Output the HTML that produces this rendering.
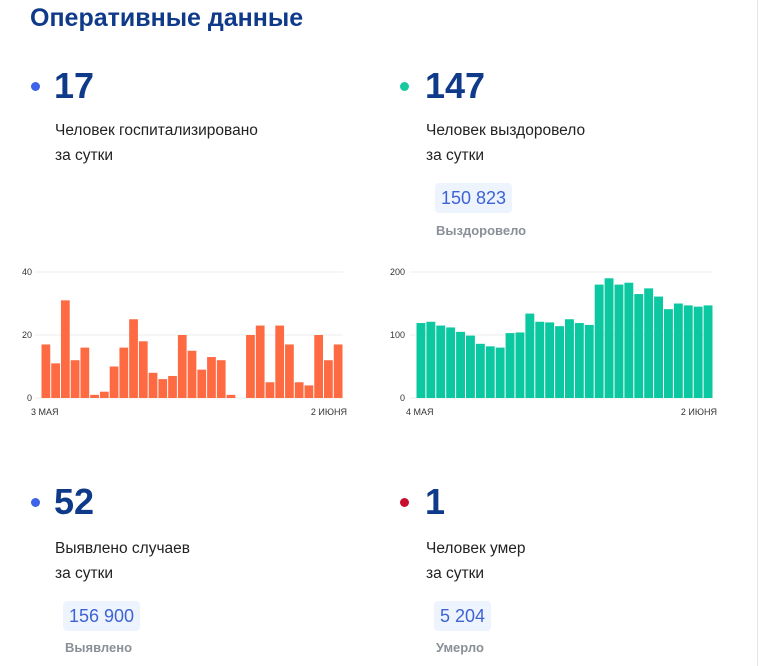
<!DOCTYPE html>
<html><head><meta charset="utf-8">
<style>
body{margin:0;width:760px;height:666px;background:#fff;font-family:"Liberation Sans",sans-serif;position:relative;overflow:hidden}
.a{position:absolute;margin:0;white-space:nowrap}
.title{left:30px;top:4px;font-size:25px;font-weight:bold;color:#0f3a8a}
.dot{width:9px;height:9px;border-radius:50%}
.big{font-size:36px;font-weight:bold;color:#0f3a8a;line-height:40px}
.sub{font-size:15.5px;color:#222;line-height:25px}
.badge{background:#eef4fd;color:#3d63d6;font-size:18px;border-radius:4px;padding:4px 6px;line-height:22px}
.lbl{font-size:13px;font-weight:bold;color:#8a8f98}
</style></head><body>
<div class="a title">Оперативные данные</div>
<div style="position:absolute;left:757px;top:0;width:1px;height:666px;background:#e4e4e4"></div>

<div class="a dot" style="left:31px;top:82px;background:#3d63e8"></div>
<div class="a big" style="left:54px;top:66px">17</div>
<div class="a sub" style="left:55px;top:118px">Человек госпитализировано<br>за сутки</div>

<div class="a dot" style="left:400px;top:82px;background:#18c9a0"></div>
<div class="a big" style="left:425px;top:66px">147</div>
<div class="a sub" style="left:426px;top:118px">Человек выздоровело<br>за сутки</div>
<div class="a badge" style="left:435px;top:183px">150 823</div>
<div class="a lbl" style="left:436px;top:223px">Выздоровело</div>

<div class="a dot" style="left:31px;top:498px;background:#3d63e8"></div>
<div class="a big" style="left:54px;top:482px">52</div>
<div class="a sub" style="left:55px;top:536px">Выявлено случаев<br>за сутки</div>
<div class="a badge" style="left:63px;top:601px">156 900</div>
<div class="a lbl" style="left:65px;top:640px">Выявлено</div>

<div class="a dot" style="left:400px;top:498px;background:#c8102e"></div>
<div class="a big" style="left:425px;top:482px">1</div>
<div class="a sub" style="left:426px;top:536px">Человек умер<br>за сутки</div>
<div class="a badge" style="left:434px;top:601px">5 204</div>
<div class="a lbl" style="left:436px;top:640px">Умерло</div>

<svg id="c1" class="a" style="left:0;top:0" width="760" height="666"></svg>
<script>
const hospValues=[17,11,31,12,16,1,2,10,16,25,18,8,6,7,20,15,9,13,12,1,0,20,23,5,23,17,5,4,20,12,17];
const hospTicks=[0,20,40];
const hospXLabels=["3 МАЯ","2 ИЮНЯ"];
const recValues=[119,121,115,112,105,99,86,82,80,103,104,134,121,120,114,125,119,116,180,190,180,183,165,174,161,141,150,147,145,147];
const recTicks=[0,100,200];
const recXLabels=["4 МАЯ","2 ИЮНЯ"];
const svg=document.getElementById('c1');
const NS='http://www.w3.org/2000/svg';
function mk(t,at){const e=document.createElementNS(NS,t);for(const k in at)e.setAttribute(k,at[k]);svg.appendChild(e);return e;}
function chart(vals,ticks,xl,x0,x1,gx0,max,color,lblx,prefix){
  const y0=398,yTop=272;
  const y=v=>y0-(v/max)*(y0-yTop);
  ticks.forEach(t=>{
    const l=mk('line',{x1:gx0,x2:x1,y1:y(t),y2:y(t),stroke:'#ececec','stroke-width':1});
    
    
    const tx=mk('text',{x:lblx,y:y(t)+3,'font-size':9,fill:'#333','text-anchor':'end','font-family':'Liberation Sans, sans-serif'});
    tx.textContent=t;
    
    
  });
  const w=(x1-x0)/vals.length;
  vals.forEach((v,i)=>{
    const r=mk('rect',{x:x0+i*w+0.5,y:y(v),width:w-1,height:y0-y(v),fill:color});
    
    
  });
  const a=mk('text',{x:x0-10,y:415,'font-size':9,fill:'#333','font-family':'Liberation Sans, sans-serif'});
  a.textContent=xl[0];
  
  
  const b=mk('text',{x:x1+4,y:415,'font-size':9,fill:'#333','text-anchor':'end','font-family':'Liberation Sans, sans-serif'});
  b.textContent=xl[1];
  
  
}
chart(hospValues,hospTicks,hospXLabels,41,343,35,40,'#fe6a42',32,'hospitalized-chart');
chart(recValues,recTicks,recXLabels,416,713,410,200,'#0cc8a0',405,'recovered-chart');
</script>
</body></html>
